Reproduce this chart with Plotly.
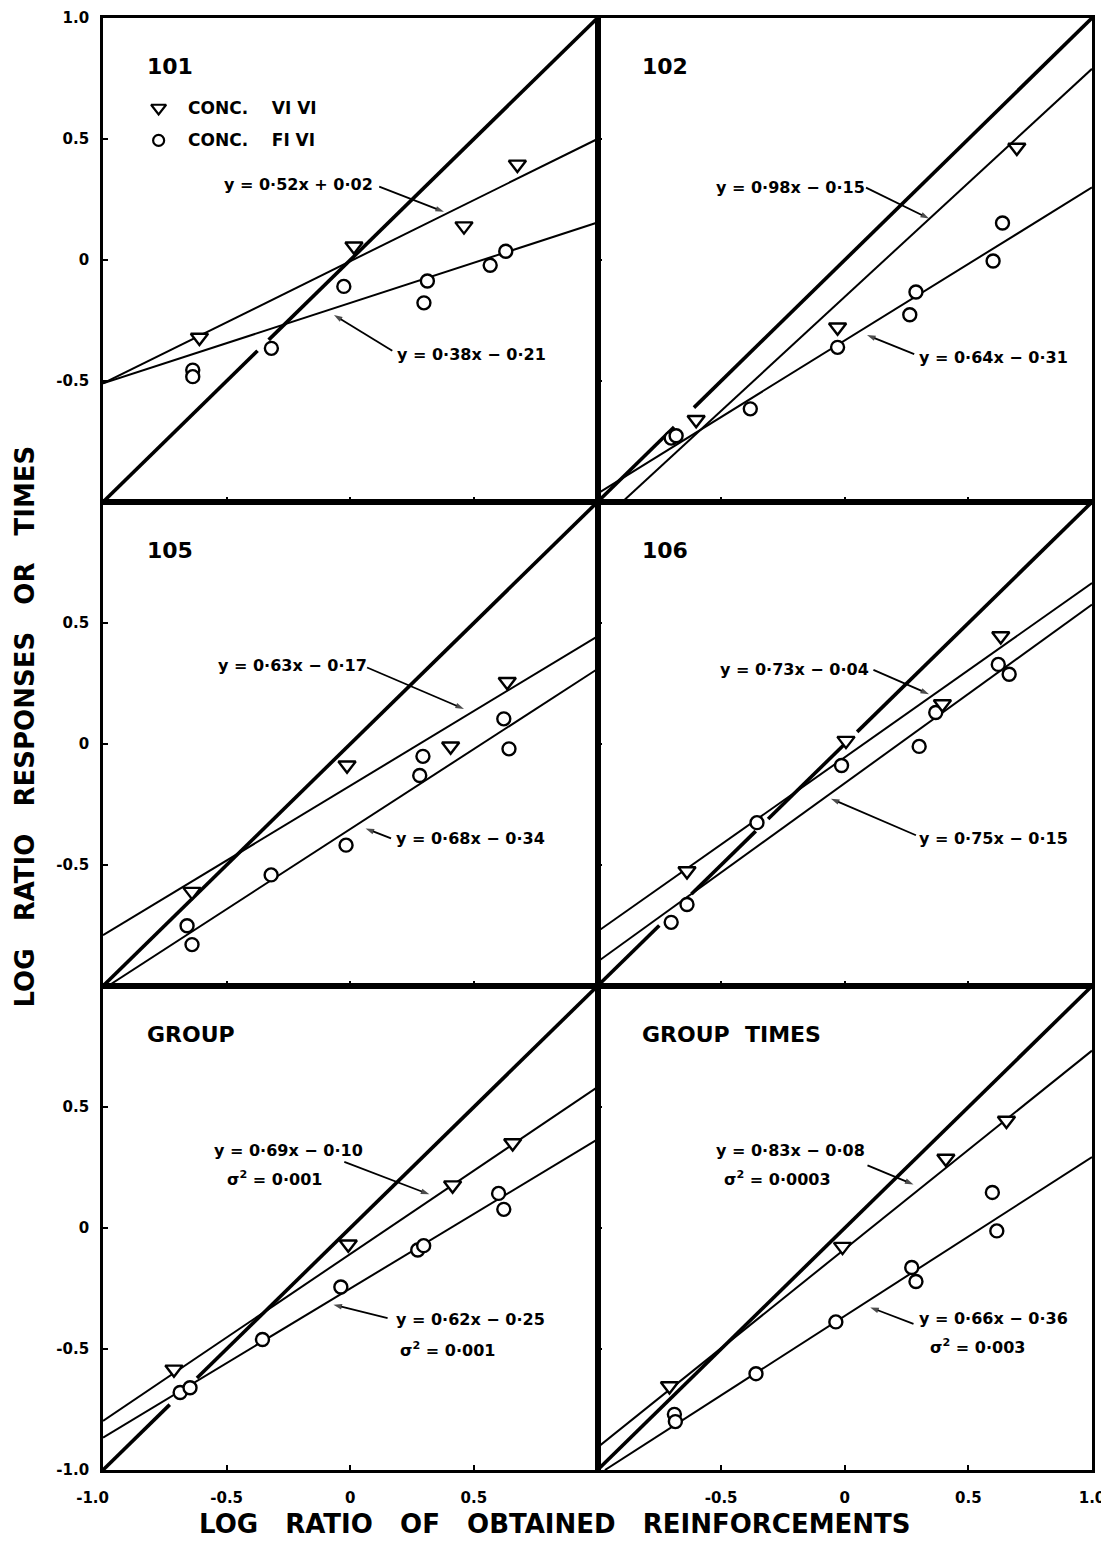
import plotly.graph_objects as go
from plotly.subplots import make_subplots

# ---------------- data ----------------
panel_names = ["101", "102", "105", "106", "GROUP", "GROUP\u00a0\u00a0TIMES"]

# triangles: conc. VI VI ; circles: conc. FI VI
p101_tri_x = [-0.61, 0.015, 0.46, 0.676]
p101_tri_y = [-0.32, 0.057, 0.14, 0.395]
p101_cir_x = [-0.637, -0.637, -0.319, -0.026, 0.298, 0.312, 0.566, 0.629]
p101_cir_y = [-0.455, -0.482, -0.365, -0.109, -0.177, -0.087, -0.022, 0.036]

p102_tri_x = [-0.925, -0.601, -0.029, 0.696]
p102_tri_y = [-1.02, -0.66, -0.278, 0.465]
p102_cir_x = [-0.702, -0.682, -0.382, -0.029, 0.263, 0.288, 0.60, 0.638]
p102_cir_y = [-0.736, -0.726, -0.615, -0.361, -0.226, -0.132, -0.004, 0.153]

p105_tri_x = [-0.64, -0.013, 0.406, 0.635]
p105_tri_y = [-0.61, -0.088, -0.009, 0.257]
p105_cir_x = [-0.66, -0.64, -0.32, -0.017, 0.281, 0.294, 0.621, 0.642]
p105_cir_y = [-0.751, -0.829, -0.541, -0.418, -0.13, -0.051, 0.104, -0.02]

p106_tri_x = [-0.638, 0.005, 0.395, 0.631]
p106_tri_y = [-0.525, 0.014, 0.165, 0.446]
p106_cir_x = [-0.702, -0.638, -0.355, -0.013, 0.301, 0.368, 0.621, 0.665]
p106_cir_y = [-0.737, -0.663, -0.325, -0.089, -0.01, 0.13, 0.329, 0.288]

grp_tri_x = [-0.713, -0.008, 0.414, 0.657]
grp_tri_y = [-0.584, -0.067, 0.177, 0.351]
grp_cir_x = [-0.688, -0.648, -0.355, -0.038, 0.273, 0.297, 0.60, 0.621]
grp_cir_y = [-0.68, -0.66, -0.461, -0.244, -0.091, -0.073, 0.143, 0.077]

gt_tri_x = [-0.709, -0.009, 0.409, 0.654]
gt_tri_y = [-0.653, -0.077, 0.287, 0.444]
gt_cir_x = [-0.689, -0.685, -0.359, -0.036, 0.271, 0.288, 0.597, 0.615]
gt_cir_y = [-0.77, -0.80, -0.602, -0.388, -0.163, -0.221, 0.147, -0.012]

# fitted lines (end points as drawn)
tri_line_x = [[-1, 1], [-0.9, 1], [-1, 1], [-1, 1], [-1, 1], [-1, 1]]
tri_line_y = [[-0.51, 0.50], [-1.0, 0.79], [-0.79, 0.445], [-0.775, 0.665], [-0.797, 0.582], [-0.907, 0.733]]
cir_line_x = [[-1, 1], [-1, 1], [-0.98, 1], [-1, 1], [-1, 1], [-0.97, 1]]
cir_line_y = [[-0.51, 0.155], [-0.965, 0.30], [-1.0, 0.31], [-0.9, 0.576], [-0.866, 0.366], [-1.0, 0.293]]

# identity (matching) line, with the breaks of the original drawing
diag_x = [
    [-1, -0.375, None, -0.33, 1],
    [-1, -0.69, None, -0.61, 1],
    [-1, 1],
    [-1, -0.75, None, -0.62, -0.36, None, -0.31, 0.0, None, 0.05, 1],
    [-1, -0.73, None, -0.62, 1],
    [-1, 1],
]
diag_y = [
    [-1, -0.375, None, -0.33, 1],
    [-1, -0.69, None, -0.61, 1],
    [-1, 1],
    [-1, -0.75, None, -0.62, -0.36, None, -0.31, 0.0, None, 0.05, 1],
    [-1, -0.73, None, -0.62, 1],
    [-1, 1],
]

# equation labels: (x, y) centres, and arrows (tail x, tail y, head x, head y)
tri_eq_text = ["y = 0·52x + 0·02", "y = 0·98x − 0·15", "y = 0·63x − 0·17",
               "y = 0·73x − 0·04", "y = 0·69x − 0·10", "y = 0·83x − 0·08"]
tri_eq_pos = [(-0.21, 0.31), (-0.221, 0.299), (-0.232, 0.323), (-0.205, 0.309), (-0.25, 0.321), (-0.221, 0.321)]
tri_arrow = [(0.117, 0.303, 0.379, 0.199), (0.086, 0.299, 0.341, 0.171), (0.068, 0.316, 0.46, 0.145),
             (0.116, 0.306, 0.341, 0.206), (-0.024, 0.273, 0.32, 0.139), (0.092, 0.259, 0.278, 0.18)]
cir_eq_text = ["y = 0·38x − 0·21", "y = 0·64x − 0·31", "y = 0·68x − 0·34",
               "y = 0·75x − 0·15", "y = 0·62x − 0·25", "y = 0·66x − 0·36"]
cir_eq_pos = [(0.49, -0.389), (0.60, -0.403), (0.488, -0.39), (0.603, -0.391), (0.485, -0.379), (0.60, -0.372)]
cir_arrow = [(0.17, -0.375, -0.066, -0.227), (0.281, -0.389, 0.09, -0.31), (0.165, -0.39, 0.062, -0.349),
             (0.288, -0.377, -0.056, -0.226), (0.151, -0.372, -0.068, -0.317), (0.278, -0.396, 0.103, -0.328)]
# variance lines for the group panels
var_text = ["σ<sup>2</sup> = 0·001", "σ<sup>2</sup> = 0·001", "σ<sup>2</sup> = 0·0003", "σ<sup>2</sup> = 0·003"]
var_panel = [4, 4, 5, 5]
var_pos = [(-0.308, 0.205), (0.393, -0.502), (-0.27, 0.205), (0.537, -0.488)]

legend_labels = ["CONC.\u00a0\u00a0\u00a0\u00a0VI\u00a0VI", "CONC.\u00a0\u00a0\u00a0\u00a0FI\u00a0VI"]

# tick values and labels (bottom-left corner label nudged inward as in the original)
PAD = "\u00a0\u00a0\u00a0\u00a0"
minor_ticks = [-0.5, 0, 0.5]
y_tickvals_rows = [[-0.5, 0, 0.5, 1], [-0.5, 0, 0.5], [-1, -0.5, 0, 0.5]]
y_ticktext_rows = [["-0.5", "0", "0.5", "1.0"], ["-0.5", "0", "0.5"], ["-1.0", "-0.5", "0", "0.5"]]
x_tickvals_cols = [[-1, -0.5, 0, 0.5], [-0.5, 0, 0.5, 1]]
x_ticktext_cols = [["-1.0" + PAD, "-0.5", "0", "0.5"], ["-0.5", "0", "0.5", "1.0"]]

SP = "\u00a0\u00a0\u00a0"
x_title = SP.join(["LOG", "RATIO", "OF", "OBTAINED", "REINFORCEMENTS"])
y_title = SP.join(["LOG", "RATIO", "RESPONSES", "OR", "TIMES"])

# ---------------- figure ----------------
FONT = "DejaVu Sans"
tri_xs = [p101_tri_x, p102_tri_x, p105_tri_x, p106_tri_x, grp_tri_x, gt_tri_x]
tri_ys = [p101_tri_y, p102_tri_y, p105_tri_y, p106_tri_y, grp_tri_y, gt_tri_y]
cir_xs = [p101_cir_x, p102_cir_x, p105_cir_x, p106_cir_x, grp_cir_x, gt_cir_x]
cir_ys = [p101_cir_y, p102_cir_y, p105_cir_y, p106_cir_y, grp_cir_y, gt_cir_y]

fig = make_subplots(rows=3, cols=2, horizontal_spacing=0, vertical_spacing=0)

for i in range(6):
    r, c = i // 2 + 1, i % 2 + 1
    fig.add_trace(go.Scatter(x=diag_x[i], y=diag_y[i], mode="lines",
                             line=dict(color="black", width=3.6), connectgaps=False,
                             showlegend=False, hoverinfo="skip"), row=r, col=c)
    fig.add_trace(go.Scatter(x=tri_line_x[i], y=tri_line_y[i], mode="lines",
                             line=dict(color="black", width=2), showlegend=False,
                             hoverinfo="skip"), row=r, col=c)
    fig.add_trace(go.Scatter(x=cir_line_x[i], y=cir_line_y[i], mode="lines",
                             line=dict(color="black", width=2), showlegend=False,
                             hoverinfo="skip"), row=r, col=c)
    # pointer arrows
    for arr in (tri_arrow[i], cir_arrow[i]):
        fig.add_trace(go.Scatter(x=[arr[0], arr[2]], y=[arr[1], arr[3]], mode="lines+markers",
                                 line=dict(color="black", width=1.8),
                                 marker=dict(symbol="arrow", angleref="previous", size=[0, 9],
                                             color="black", line=dict(width=0)),
                                 showlegend=False, hoverinfo="skip"), row=r, col=c)
    fig.add_trace(go.Scatter(x=cir_xs[i], y=cir_ys[i], mode="markers", cliponaxis=False,
                             marker=dict(symbol="circle", size=13, color="white",
                                         line=dict(color="black", width=2.4)),
                             showlegend=False), row=r, col=c)
    fig.add_trace(go.Scatter(x=tri_xs[i], y=tri_ys[i], mode="markers", cliponaxis=False,
                             marker=dict(symbol="triangle-down", size=15, color="white",
                                         line=dict(color="black", width=2.4)),
                             showlegend=False), row=r, col=c)

    axn = "" if i == 0 else str(i + 1)
    xref, yref = "x" + axn, "y" + axn
    fig.add_annotation(x=-0.83, y=0.80, xref=xref, yref=yref, text=panel_names[i],
                       showarrow=False, xanchor="left", yanchor="middle",
                       font=dict(family=FONT, size=22, color="black", weight="bold"))
    for txt, pos in ((tri_eq_text[i], tri_eq_pos[i]), (cir_eq_text[i], cir_eq_pos[i])):
        fig.add_annotation(x=pos[0], y=pos[1], xref=xref, yref=yref, text=txt,
                           showarrow=False, xanchor="center", yanchor="middle",
                           font=dict(family=FONT, size=16, color="black", weight="bold"))

for k in range(len(var_text)):
    axn = str(var_panel[k] + 1)
    fig.add_annotation(x=var_pos[k][0], y=var_pos[k][1], xref="x" + axn, yref="y" + axn,
                       text=var_text[k], showarrow=False, xanchor="center", yanchor="middle",
                       font=dict(family=FONT, size=16, color="black", weight="bold"))

# legend inside panel 101
fig.add_trace(go.Scatter(x=[-0.775], y=[0.628], mode="markers",
                         marker=dict(symbol="triangle-down", size=13, color="white",
                                     line=dict(color="black", width=2.2)),
                         showlegend=False), row=1, col=1)
fig.add_trace(go.Scatter(x=[-0.775], y=[0.494], mode="markers",
                         marker=dict(symbol="circle", size=11, color="white",
                                     line=dict(color="black", width=2.2)),
                         showlegend=False), row=1, col=1)
for lab, yy in zip(legend_labels, [0.628, 0.494]):
    fig.add_annotation(x=-0.665, y=yy, xref="x", yref="y", text=lab, showarrow=False,
                       xanchor="left", yanchor="middle",
                       font=dict(family=FONT, size=17, color="black", weight="bold"))

# axes
tickfont = dict(family=FONT, size=15, color="black", weight="bold")
for i in range(6):
    r, c = i // 2 + 1, i % 2 + 1
    common = dict(range=[-1, 1], showgrid=False, zeroline=False, showline=True, mirror=True,
                  linecolor="black", linewidth=2.8, ticks="inside", ticklen=5, tickwidth=2,
                  tickcolor="black", automargin=False, tickfont=tickfont,
                  ticklabeloverflow="allow")
    if r == 3:
        fig.update_xaxes(tickvals=x_tickvals_cols[c - 1], ticktext=x_ticktext_cols[c - 1],
                         showticklabels=True, ticklabelstandoff=12, row=r, col=c, **common)
    else:
        fig.update_xaxes(tickvals=minor_ticks, showticklabels=False, row=r, col=c, **common)
    if c == 1:
        fig.update_yaxes(tickvals=y_tickvals_rows[r - 1], ticktext=y_ticktext_rows[r - 1],
                         showticklabels=True, ticklabelstandoff=8, row=r, col=c, **common)
    else:
        fig.update_yaxes(tickvals=minor_ticks, showticklabels=False, row=r, col=c, **common)

fig.add_annotation(x=0.457, y=-0.037, xref="paper", yref="paper", text=x_title, showarrow=False,
                   xanchor="center", yanchor="middle",
                   font=dict(family=FONT, size=26, color="black", weight="bold"))
fig.add_annotation(x=-0.0789, y=0.512, xref="paper", yref="paper", text=y_title, showarrow=False,
                   textangle=-90, xanchor="center", yanchor="middle", borderpad=0,
                   font=dict(family=FONT, size=26, color="black", weight="bold"))

# the page body adds an 8 px offset; size the figure so the plot sits where the original does
fig.update_layout(width=1101, height=1533, margin=dict(l=95, r=17, t=10, b=71, autoexpand=False),
                  paper_bgcolor="white", plot_bgcolor="rgba(0,0,0,0)", showlegend=False)

fig.write_html("out.html")
